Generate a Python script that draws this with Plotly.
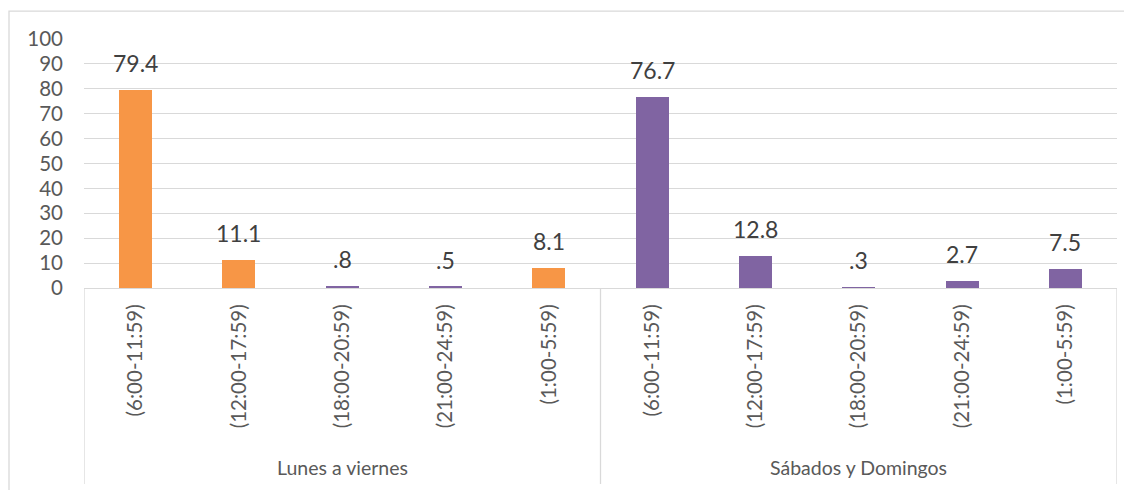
import plotly.graph_objects as go

ORANGE = "#F79646"
PURPLE = "#8064A2"
GRID = "#D9D9D9"
TEXT = "#595959"
LABEL = "#404040"

groups = ["Lunes a viernes", "Sábados y Domingos"]
periods = ["(6:00-11:59)", "(12:00-17:59)", "(18:00-20:59)", "(21:00-24:59)", "(1:00-5:59)"]
lunes = [79.4, 11.1, 0.8, 0.5, 8.1]
sabados = [76.7, 12.8, 0.3, 2.7, 7.5]
lunes_colors = [ORANGE, ORANGE, PURPLE, PURPLE, ORANGE]
sabados_colors = [PURPLE] * 5

values = lunes + sabados
colors = lunes_colors + sabados_colors
ticktext = periods + periods
xs = list(range(len(values)))


def fmt(v):
    s = f"{v:.1f}"
    return s[1:] if s.startswith("0") else s


fig = go.Figure()
fig.add_trace(go.Bar(x=xs, y=values, marker=dict(color=colors, line=dict(width=0)),
                     width=0.32, showlegend=False, hoverinfo="y"))

for x, v in zip(xs, values):
    fig.add_annotation(x=x, y=v, text=fmt(v), showarrow=False, yanchor="bottom",
                       yshift=11, font=dict(size=23, color=LABEL))

n = len(periods)
bounds = [-0.5, n - 0.5, 2 * n - 0.5]
for b in bounds:
    fig.add_shape(type="line", xref="x", yref="paper", x0=b, x1=b, y0=0, y1=-0.787,
                  line=dict(color=GRID, width=1.3))
for i, g in enumerate(groups):
    fig.add_annotation(x=i * n + (n - 1) / 2, y=-0.719, xref="x", yref="paper", text=g,
                       showarrow=False, yanchor="middle", font=dict(size=19.5, color=TEXT))

# outer chart border (only left/top visible in the crop)
fig.add_shape(type="rect", xref="paper", yref="paper", x0=-0.0726, x1=1.2, y0=1.112, y1=-1.0,
              line=dict(color=GRID, width=1.3))

fig.update_layout(
    width=1132, height=490,
    paper_bgcolor="white", plot_bgcolor="white",
    margin=dict(l=76, r=23, t=31, b=210),
    font=dict(family="Lato, Carlito, Calibri, sans-serif", color=TEXT),
    bargap=0,
)
fig.update_xaxes(range=[-0.5, 2 * n - 0.5], tickvals=xs, ticktext=ticktext, tickangle=-90,
                 tickfont=dict(size=20.5, color=TEXT), showgrid=False, zeroline=False,
                 showline=True, linecolor=GRID, linewidth=1.3, ticks="", ticklabelstandoff=7)
fig.update_yaxes(range=[0, 100], dtick=10, tickfont=dict(size=20.5, color=TEXT), gridcolor=GRID,
                 gridwidth=1.3, zeroline=False, showline=False, ticks="", ticklabelstandoff=20)

fig.write_html("out.html")
